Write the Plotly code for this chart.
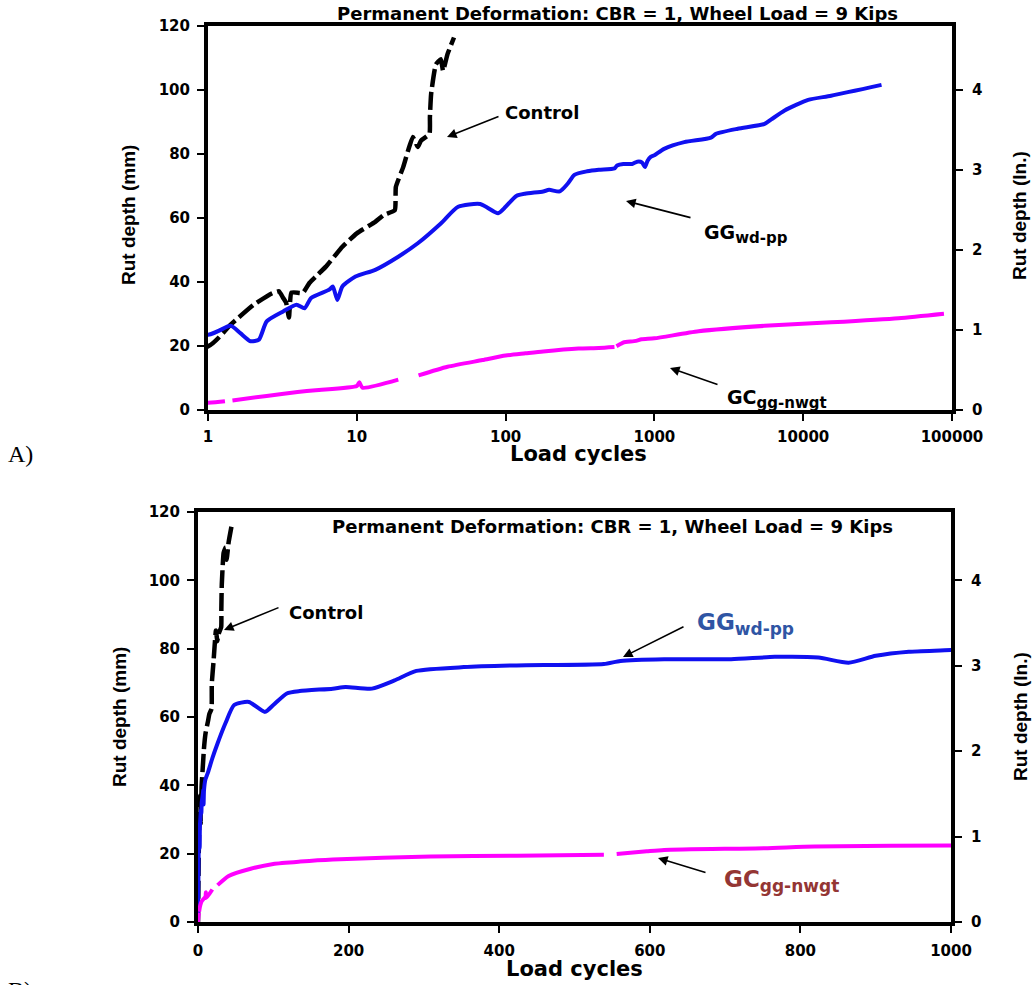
import plotly.graph_objects as go

# ---------------- data (load cycles vs rut depth in mm) ----------------
control_cycles = [0, 1, 1.42, 2.03, 2.7, 3.0, 3.2, 3.35, 3.5, 3.64, 4.34, 4.8, 5.3, 6.2, 8.0, 10,
                  13.3, 15.1, 18, 18.3, 20.5, 23.8, 25.7, 27, 30.8, 31, 31.6, 34, 36.7, 38, 40.7, 45]
control_rut = [0, 19.9, 26.7, 32.9, 36.5, 37.1, 35.0, 33.5, 28.9, 36.7, 36.6, 39.7, 41.7, 44.8, 51.0, 55.2,
               58.8, 60.9, 62.4, 69.7, 75.9, 85.3, 82.2, 84.2, 86.3, 91.5, 98.8, 108.0, 109.6, 106.0, 111.2, 116.4]

gg_cycles = [0, 1, 1.42, 1.65, 1.93, 2.2, 2.48, 3.2, 3.93, 4.46, 4.93, 6.53, 6.9, 7.4, 8.0, 9.8, 13.3,
             19, 25.7, 36.7, 48, 67.5, 89, 100, 118, 135, 179, 196, 231, 261, 290, 353, 423, 539,
             561, 619, 708, 766, 824, 864, 900, 944, 1000, 1162, 1587, 2400, 2590, 3630, 5500,
             6100, 7500, 10800, 15400, 33600]
gg_rut = [0, 23.5, 26.3, 24.0, 21.5, 22.0, 27.7, 30.8, 32.9, 31.8, 35.0, 37.6, 38.6, 34.4, 38.6, 41.7, 43.8,
          47.9, 52.1, 58.3, 63.5, 64.4, 61.5, 63.5, 66.9, 67.6, 68.3, 68.8, 68.3, 70.7, 73.5, 74.6, 75.1, 75.5,
          76.4, 76.9, 76.9, 77.6, 77.4, 75.9, 77.9, 79.1, 79.6, 81.6, 83.7, 85.1, 86.3, 87.9, 89.4,
          90.8, 93.6, 96.9, 98.2, 101.6]

gc_cycles = [0, 1, 1.3, 1.38, 1.46, 2.48, 4, 5.3, 10, 10.4, 10.9, 19, 22, 26, 40.7, 70, 100, 136, 179,
             309, 423, 539, 548, 556, 596, 619, 752, 819, 1000, 1980, 5500, 15400, 43700, 88300]
gc_rut = [0, 2.3, 2.75, None, 3.0, 4.4, 5.6, 6.2, 7.5, 8.7, 7.0, 9.5, None, 10.8, 13.5, 15.6, 17.0, 17.7, 18.3,
          19.2, 19.4, 19.7, None, 19.9, 20.7, 21.1, 21.6, 22.1, 22.4, 24.6, 26.3, 27.4, 28.7, 30.1]

log_tick_vals = [1, 10, 100, 1000, 10000, 100000]
log_tick_text = ["1", "10", "100", "1000", "10000", "100000"]
lin_tick_vals = [0, 200, 400, 600, 800, 1000]
lin_tick_text = ["0", "200", "400", "600", "800", "1000"]
mm_ticks = [0, 20, 40, 60, 80, 100, 120]
in_ticks = [0, 1, 2, 3, 4]
mm_per_in_axis = 25  # right axis: 0-4.8 in spans the same height as 0-120 mm

title_text = "Permanent Deformation: CBR = 1, Wheel Load = 9 Kips"

# ---------------- layout geometry ----------------
W, H = 1034, 985


def px(x):
    return x / W


def py(y):
    return 1 - y / H


xA = [px(208), px(952)]
yA = [py(410), py(26)]
xB = [px(198), px(951)]
yB = [py(922), py(512)]

fig = go.Figure()

BLUE = "#1010F0"
MAG = "#FF00FF"


def add_series(xa, ya, ya_right):
    fig.add_trace(go.Scatter(x=control_cycles, y=control_rut, mode="lines", xaxis=xa, yaxis=ya,
                             line=dict(color="black", width=4.5, dash="18px,5px", shape="spline",
                                       smoothing=0.4),
                             showlegend=False))
    fig.add_trace(go.Scatter(x=gg_cycles, y=gg_rut, mode="lines", xaxis=xa, yaxis=ya,
                             line=dict(color=BLUE, width=4, shape="spline", smoothing=0.6),
                             showlegend=False))
    fig.add_trace(go.Scatter(x=gc_cycles, y=gc_rut, mode="lines", xaxis=xa, yaxis=ya,
                             line=dict(color=MAG, width=4, shape="spline", smoothing=0.6),
                             showlegend=False, connectgaps=False))
    # same GG series in inches on the right axis, invisible (keeps the right axis drawn)
    fig.add_trace(go.Scatter(x=gg_cycles, y=[v / mm_per_in_axis for v in gg_rut], mode="lines",
                             xaxis=xa, yaxis=ya_right, opacity=0, hoverinfo="skip",
                             line=dict(width=0), showlegend=False))


add_series("x", "y", "y2")
add_series("x2", "y3", "y4")

tickfont = dict(family="DejaVu Sans", size=15, color="black", weight="bold")
common = dict(showline=True, linewidth=4, linecolor="black", showgrid=False, zeroline=False,
              ticks="outside", ticklen=7, tickwidth=2, tickcolor="black", tickfont=tickfont,
              automargin=False)

fig.update_layout(
    template="none",
    width=W, height=H,
    margin=dict(l=0, r=0, t=0, b=0),
    paper_bgcolor="white", plot_bgcolor="white",
    showlegend=False,
    xaxis=dict(domain=xA, anchor="y", type="log", range=[0, 5], tickvals=log_tick_vals,
               ticktext=log_tick_text, mirror=True, ticklabelstandoff=3, **common),
    yaxis=dict(domain=yA, anchor="x", range=[0, 120], tickvals=mm_ticks, ticklabelstandoff=4, **common),
    yaxis2=dict(domain=yA, anchor="x", overlaying="y", side="right", range=[0, 4.8],
                tickvals=in_ticks, ticklabelstandoff=6, **common),
    xaxis2=dict(domain=xB, anchor="y3", range=[0, 1000], tickvals=lin_tick_vals,
                ticktext=lin_tick_text, mirror=True, ticklabelstandoff=5, **common),
    yaxis3=dict(domain=yB, anchor="x2", range=[0, 120], tickvals=mm_ticks, ticklabelstandoff=4, **common),
    yaxis4=dict(domain=yB, anchor="x2", overlaying="y3", side="right", range=[0, 4.8],
                tickvals=in_ticks, ticklabelstandoff=6, **common),
)

ann = []


def text(x, y, s, size, family="DejaVu Sans", weight="bold", color="black", xanchor="center",
         yanchor="middle", angle=0):
    ann.append(dict(x=px(x), y=py(y), xref="paper", yref="paper", text=s, showarrow=False,
                    xanchor=xanchor, yanchor=yanchor, textangle=angle,
                    font=dict(family=family, size=size, color=color, weight=weight)))


def arrow(hx, hy, tx, ty):
    ann.append(dict(x=px(hx), y=py(hy), xref="paper", yref="paper", text="", showarrow=True,
                    ax=tx - hx, ay=ty - hy, arrowhead=2, arrowsize=1.2, arrowwidth=1.6,
                    arrowcolor="black", standoff=0))


# Panel A
text(617, 13, title_text, 18)
text(503, 113, "Control", 18, xanchor="left")
arrow(447, 137, 500, 116)
text(702, 234, "GG<sub><span style='font-size:15px'>wd-pp</span></sub>", 19, xanchor="left")
arrow(626, 201, 692, 218)
text(725, 399, "GC<sub><span style='font-size:15px'>gg-nwgt</span></sub>", 19, xanchor="left")
arrow(670, 368, 719, 385)
text(128, 215, "Rut depth (mm)", 19, family="Liberation Sans", angle=-90)
text(1020, 216, "Rut depth (In.)", 19, family="Liberation Sans", angle=-90)
text(578, 454, "Load cycles", 21)
text(6, 454, "A)", 24, family="Liberation Serif", weight="normal", xanchor="left")

# Panel B
text(612, 526, title_text, 18)
text(287, 612, "Control", 18, xanchor="left")
arrow(224, 630, 280, 607)
text(695, 624, "GG<sub><span style='font-size:17px'>wd-pp</span></sub>", 23, color="#2F55A4",
     xanchor="left")
arrow(623, 657, 685, 626)
text(722, 881, "GC<sub><span style='font-size:17px'>gg-nwgt</span></sub>", 23, color="#943634",
     xanchor="left")
arrow(658, 858, 707, 873)
text(119, 717, "Rut depth (mm)", 19, family="Liberation Sans", angle=-90)
text(1020, 717, "Rut depth (In.)", 19, family="Liberation Sans", angle=-90)
text(574, 969, "Load cycles", 21)
text(6, 975, "B)", 24, family="Liberation Serif", weight="normal", xanchor="left", yanchor="top")

fig.update_layout(annotations=ann)

# remove the default page margin so the figure fills the window exactly; no mode bar
fig.write_html("out.html", config={"displayModeBar": False},
               post_script="document.body.style.margin='0';document.body.style.overflow='hidden';")
